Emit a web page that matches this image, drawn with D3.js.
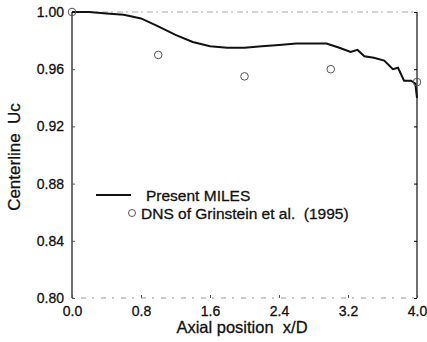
<!DOCTYPE html>
<html>
<head>
<meta charset="utf-8">
<script src="https://cdn.jsdelivr.net/npm/d3@7"></script>
<style>
body{margin:0;background:#fff;}
text{font-family:"Liberation Sans",Arial,sans-serif;fill:#111;white-space:pre;}
</style>
</head>
<body>
<div id="wrap"></div>
<script>
// MILES centerline velocity
var milesX = [0, 0.2, 0.4, 0.6, 0.8, 1.0, 1.2, 1.4, 1.6, 1.8, 2.0, 2.2, 2.4, 2.6, 2.8, 2.95, 3.1, 3.23, 3.31, 3.39, 3.5, 3.62, 3.72, 3.78, 3.85, 3.93, 3.98, 4.0];
var milesY = [1.000, 1.000, 0.999, 0.998, 0.9955, 0.990, 0.984, 0.979, 0.976, 0.975, 0.975, 0.976, 0.977, 0.978, 0.978, 0.978, 0.975, 0.972, 0.9735, 0.969, 0.968, 0.966, 0.960, 0.961, 0.952, 0.952, 0.950, 0.940];
// DNS points
var dnsX = [0, 1, 2, 3, 4];
var dnsY = [1.000, 0.970, 0.955, 0.960, 0.951];

var xTicks = [0, 0.8, 1.6, 2.4, 3.2, 4.0];
var yTicks = [0.80, 0.84, 0.88, 0.92, 0.96, 1.00];

var W = 427, H = 342;
var m = {left:72, right:10, top:12, bottom:44};

var svg = d3.select("#wrap").append("svg").attr("width",W).attr("height",H);

var x = d3.scaleLinear().domain([0,4]).range([m.left, W-m.right]);
var y = d3.scaleLinear().domain([0.80,1.00]).range([H-m.bottom, m.top]);

//frame - top/bottom look faded in the scan
svg.append("line").attr("x1",x(0)).attr("x2",x(4)).attr("y1",y(1)).attr("y2",y(1))
	.attr("stroke","#aaa").attr("stroke-dasharray","6,3,2,4");
svg.append("line").attr("x1",x(0)).attr("x2",x(4)).attr("y1",y(0.8)).attr("y2",y(0.8))
	.attr("stroke","#999").attr("stroke-dasharray","2,7,5,6");
svg.append("line").attr("x1",x(0)).attr("x2",x(0)).attr("y1",y(1)).attr("y2",y(0.8))
	.attr("stroke","#222").attr("stroke-width",1.3);
svg.append("line").attr("x1",x(4)).attr("x2",x(4)).attr("y1",y(1)).attr("y2",y(0.8))
	.attr("stroke","#222").attr("stroke-width",1.3);

//axes
var fmtX = d3.format(".1f"), fmtY = d3.format(".2f");
var gx = svg.append("g").attr("transform","translate(0,"+y(0.8)+")")
	.call(d3.axisBottom(x).tickValues(xTicks).tickFormat(fmtX).tickSize(-3).tickPadding(8));
var gy = svg.append("g").attr("transform","translate("+x(0)+",0)")
	.call(d3.axisLeft(y).tickValues(yTicks).tickFormat(fmtY).tickSize(-3).tickPadding(8));
svg.append("g").attr("transform","translate("+x(4)+",0)")
	.call(d3.axisRight(y).tickValues(yTicks).tickFormat("").tickSize(-3))
	.select(".domain").remove();
[gx,gy].forEach(function(g){
	g.select(".domain").remove();
	g.selectAll(".tick line").attr("stroke","#555");
	g.selectAll("text").style("font-size","14px").style("font-family","'Liberation Sans',Arial,sans-serif")
		.attr("fill","#111").attr("stroke","#111").attr("stroke-width",0.3);
});

//axis titles
svg.append("text").attr("x",242).attr("y",333).attr("text-anchor","middle")
	.style("font-size","16.5px").attr("stroke","#111").attr("stroke-width",0.3)
	.text("Axial position  x/D");
svg.append("text").attr("transform","translate(20,157) rotate(-90)")
	.attr("text-anchor","middle").style("font-size","17px").attr("stroke","#111").attr("stroke-width",0.3)
	.text("Centerline  Uc");

//MILES curve
var line = d3.line().x(function(d){return x(d[0])}).y(function(d){return y(d[1])});
svg.append("path").datum(d3.zip(milesX, milesY)).attr("d", line)
	.attr("fill","none").attr("stroke","#111").attr("stroke-width",2);

//DNS circles
svg.selectAll("circle.dns").data(d3.zip(dnsX, dnsY)).enter().append("circle")
	.classed("dns",true)
	.attr("cx",function(d){return x(d[0])}).attr("cy",function(d){return y(d[1])})
	.attr("r",3.8).attr("fill","none").attr("stroke","#555").attr("stroke-width",1);

//legend
var lg = svg.append("g");
lg.append("line").attr("x1",96).attr("x2",131).attr("y1",195).attr("y2",195)
	.attr("stroke","#111").attr("stroke-width",2);
lg.append("text").attr("x",146).attr("y",201).style("font-size","15.5px")
	.attr("stroke","#111").attr("stroke-width",0.3).text("Present MILES");
lg.append("circle").attr("cx",132).attr("cy",213).attr("r",3.5)
	.attr("fill","none").attr("stroke","#555");
lg.append("text").attr("x",141).attr("y",219).style("font-size","15.5px")
	.attr("stroke","#111").attr("stroke-width",0.3).text("DNS of Grinstein et al.  (1995)");
</script>
</body>
</html>
